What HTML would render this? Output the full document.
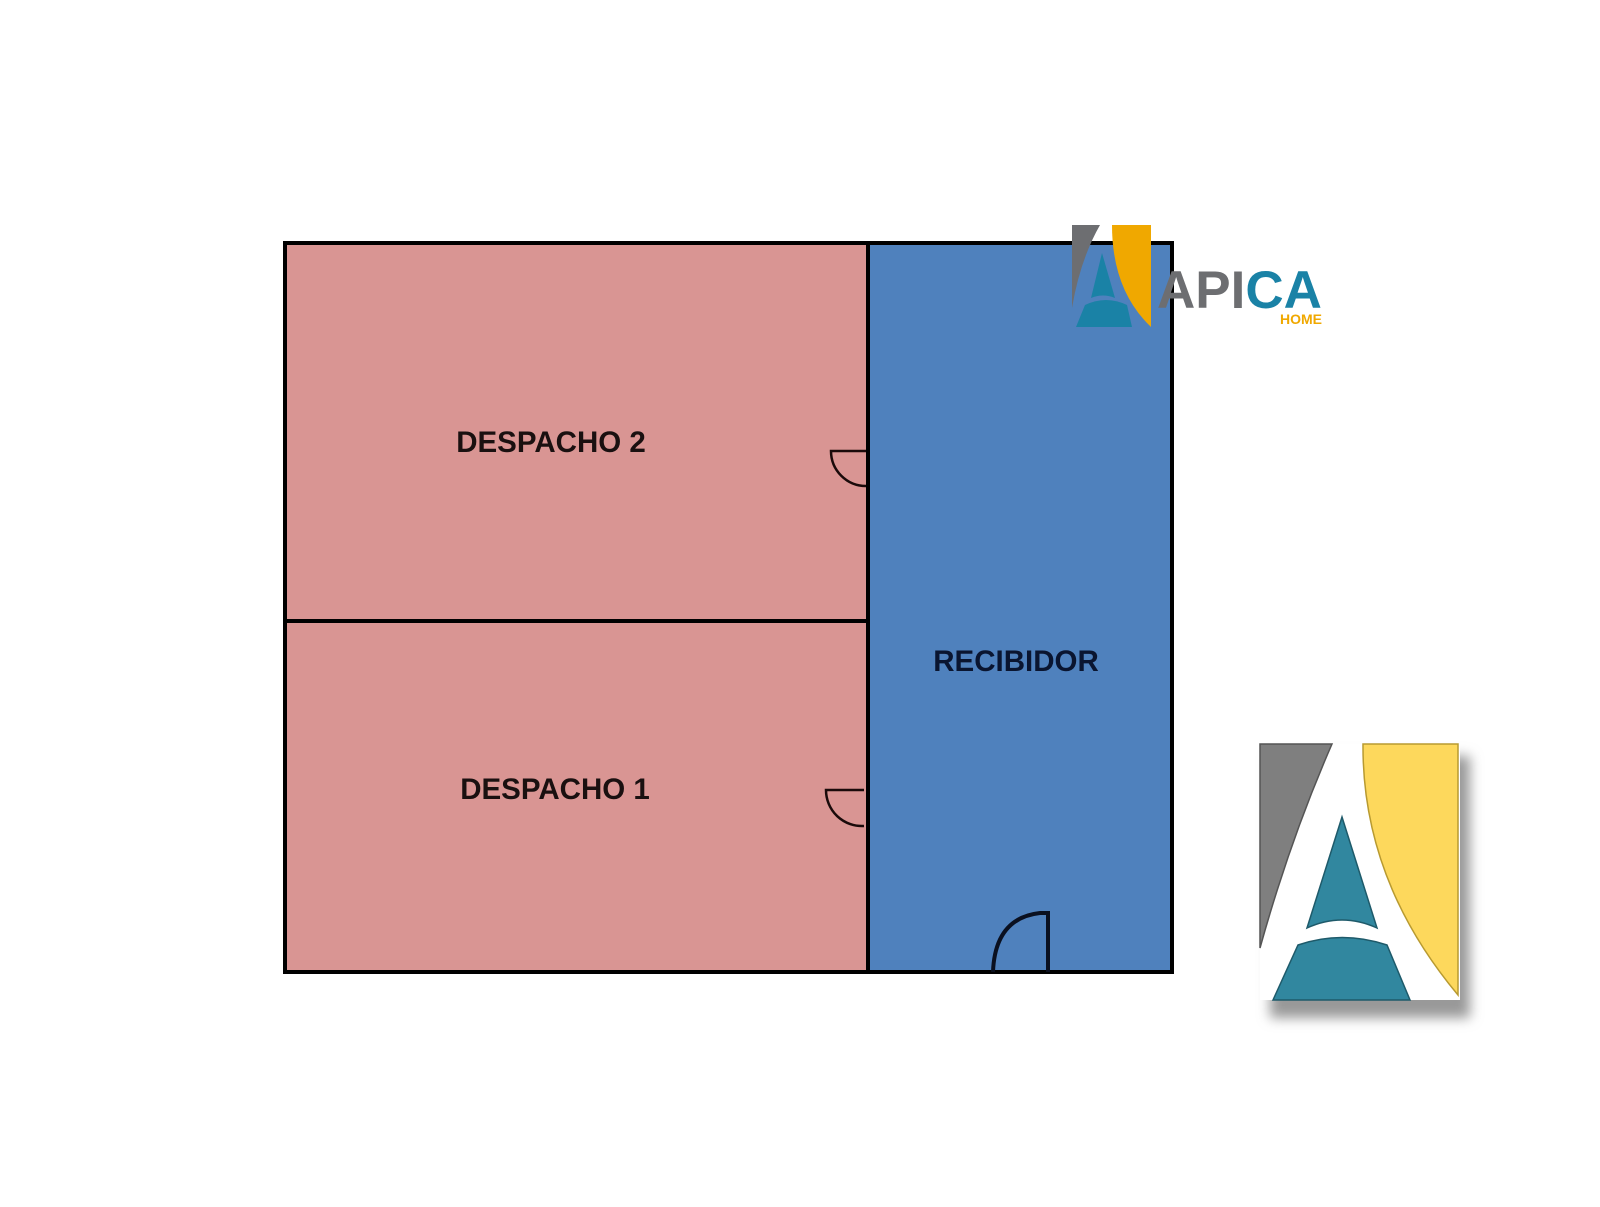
<!DOCTYPE html>
<html><head><meta charset="utf-8"><style>
html,body{margin:0;padding:0;background:#fff;}
svg{display:block;}
text{font-family:"Liberation Sans",sans-serif;font-weight:bold;}
</style></head><body>
<svg width="1600" height="1207" viewBox="0 0 1600 1207" xmlns="http://www.w3.org/2000/svg">
<defs>
<filter id="sh" x="-20%" y="-20%" width="150%" height="150%"><feGaussianBlur stdDeviation="6"/></filter>
</defs>
<rect x="285" y="243" width="583" height="378" fill="#d99593"/>
<rect x="285" y="621" width="583" height="351" fill="#d99593"/>
<rect x="868" y="243" width="304" height="729" fill="#4f81bd"/>
<g stroke="#000" stroke-width="4" fill="none">
<rect x="285" y="243" width="887" height="729"/>
<line x1="868" y1="243" x2="868" y2="972"/>
<line x1="285" y1="621" x2="868" y2="621"/>
</g>
<g stroke="#1a0a0a" stroke-width="2.5" fill="none">
<path d="M866,451 H831 A35,35 0 0 0 866,486"/>
<path d="M864,790 H826 A36,36 0 0 0 864,826"/>
</g>
<g stroke="#0a1020" stroke-width="4" fill="none">
<path d="M1048,972 V913 H1040 Q995,918 993,972"/>
</g>
<text x="551" y="452" font-size="29.5" text-anchor="middle" fill="#1a1010">DESPACHO 2</text>
<text x="555" y="799" font-size="29.5" text-anchor="middle" fill="#1a1010">DESPACHO 1</text>
<text x="1016" y="671" font-size="29.5" text-anchor="middle" fill="#0a1530">RECIBIDOR</text>
<path d="M1072,225 H1100 Q1080,260 1072,308 Z" fill="#6d6e71"/>
<path d="M1112,225 H1151 V327 Q1112,290 1112,225 Z" fill="#f0a800"/>
<path d="M1102,253 L1115,298 Q1103,293 1091,298 Z" fill="#1a82a6"/>
<path d="M1076,327 L1085,305 Q1106,295 1127,305 L1132,327 Z" fill="#1a82a6"/>
<text x="1157" y="308" font-size="53" fill="#6d6e71">API<tspan fill="#1a82a6">CA</tspan></text>
<text x="1280" y="324" font-size="14" fill="#f0a800">HOME</text>
<rect x="1270" y="756" width="200" height="262" fill="#999" filter="url(#sh)"/>
<rect x="1260" y="744" width="200" height="256" fill="#fff"/>
<path d="M1260,744 H1332 Q1290,840 1260,948 Z" fill="#7f7f7f" stroke="#555" stroke-width="1.5"/>
<path d="M1363,744 H1458 V995 Q1362,880 1363,744 Z" fill="#fdd85c" stroke="#b89a30" stroke-width="1.5"/>
<path d="M1342,817 L1377,928 Q1342,912 1307,928 Z" fill="#31879f" stroke="#1e5a6a" stroke-width="1.5"/>
<path d="M1273,1000 L1298,945 Q1342,930 1387,945 L1410,1000 Z" fill="#31879f" stroke="#1e5a6a" stroke-width="1.5"/>
</svg>
</body></html>
